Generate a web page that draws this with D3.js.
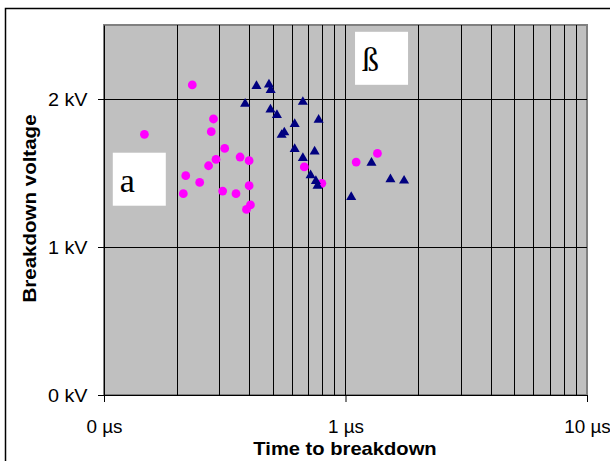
<!DOCTYPE html>
<html>
<head>
<meta charset="utf-8">
<script src="https://cdn.jsdelivr.net/npm/d3@7"></script>
<style>
  body { margin: 0; background: #fff; }
  svg { display: block; font-family: "Liberation Sans", Arial, sans-serif; }
</style>
</head>
<body>
<script>
// time to breakdown (µs) and breakdown voltage (kV)
const alphaTime = [0.232, 0.147, 0.284, 0.278, 0.316, 0.366, 0.399, 0.291, 0.271, 0.218,
                   0.249, 0.213, 0.310, 0.352, 0.399, 0.404, 0.389, 0.675, 0.798, 1.107, 1.356];
const alphaVolt = [2.095, 1.761, 1.865, 1.779, 1.666, 1.608, 1.583, 1.592, 1.549, 1.482,
                   1.436, 1.360, 1.378, 1.360, 1.414, 1.284, 1.254, 1.541, 1.430, 1.574, 1.632];

const betaTime = [0.428, 0.482, 0.490, 0.384, 0.666, 0.489, 0.520, 0.774, 0.616, 0.558,
                  0.544, 0.616, 0.745, 0.666, 0.717, 0.754, 0.766, 1.056, 1.281, 1.535, 1.748];
const betaVolt = [2.088, 2.097, 2.061, 1.968, 1.980, 1.928, 1.892, 1.860, 1.831, 1.774,
                  1.757, 1.662, 1.644, 1.601, 1.484, 1.446, 1.414, 1.338, 1.568, 1.457, 1.448];

const xTicks = [0.1, 1, 10];
const xTickLabels = ['0 µs', '1 µs', '10 µs'];
const xGrid = [0.2, 0.3, 0.4, 0.5, 0.6, 0.7, 0.8, 0.9, 1, 2, 3, 4, 5, 6, 7, 8, 9];
const yTicks = [0, 1, 2];
const yTickLabels = ['0 kV', '1 kV', '2 kV'];
const yGrid = [1, 2];

const width = 610, height = 461;
const plot = {left: 104, right: 587, top: 25, bottom: 395};

const xScale = d3.scaleLog()
                 .domain([0.1, 10])
                 .range([plot.left, plot.right]);
const yScale = d3.scaleLinear()
                 .domain([0, 2.5])
                 .range([plot.bottom, plot.top]);

const svg = d3.select('body')
              .append('svg')
              .attr('width', width)
              .attr('height', height);

// chart area border
svg.append('rect')
   .attr('x', 5.5).attr('y', 8.5)
   .attr('width', 620).attr('height', 470)
   .attr('fill', 'white')
   .attr('stroke', 'black')
   .attr('stroke-width', 1.5);

// plot area
svg.append('rect')
   .attr('x', plot.left).attr('y', plot.top)
   .attr('width', plot.right - plot.left)
   .attr('height', plot.bottom - plot.top)
   .attr('fill', '#c0c0c0')
   .attr('stroke', '#808080')
   .attr('stroke-width', 2);

svg.append('g')
   .selectAll('line')
   .data(xGrid)
   .enter()
     .append('line')
     .attr('x1', (d) => Math.round(xScale(d)) + 0.5)
     .attr('x2', (d) => Math.round(xScale(d)) + 0.5)
     .attr('y1', plot.top)
     .attr('y2', plot.bottom)
     .attr('stroke', 'black')
     .attr('stroke-width', 1);

svg.append('g')
   .selectAll('line')
   .data(yGrid)
   .enter()
     .append('line')
     .attr('x1', plot.left)
     .attr('x2', plot.right)
     .attr('y1', (d) => Math.round(yScale(d)) + 0.5)
     .attr('y2', (d) => Math.round(yScale(d)) + 0.5)
     .attr('stroke', 'black')
     .attr('stroke-width', 1);

// axes
const xAxis = d3.axisBottom(xScale)
                .tickValues(xTicks)
                .tickFormat((d, i) => xTickLabels[i])
                .tickSizeInner(7)
                .tickSizeOuter(0);
const yAxis = d3.axisLeft(yScale)
                .tickValues(yTicks)
                .tickFormat((d, i) => yTickLabels[i])
                .tickSizeInner(6)
                .tickSizeOuter(0);

const gx = svg.append('g')
   .attr('transform', `translate(0, ${plot.bottom})`)
   .call(xAxis);
gx.selectAll('text')
  .attr('x', 0).attr('y', 0).attr('dy', 0)
  .attr('transform', 'translate(0, 38) scale(1.05, 1)')
  .style('font-size', '18px')
  .attr('fill', 'black');
gx.select('.domain').attr('stroke', 'black');

const gy = svg.append('g')
   .attr('transform', `translate(${plot.left}, 0)`)
   .call(yAxis);
gy.selectAll('text')
  .attr('x', 0).attr('y', 0).attr('dy', '0.35em')
  .attr('transform', 'translate(-16.5, 0) scale(1.1, 1)')
  .style('font-size', '18px')
  .attr('fill', 'black');
gy.select('.domain').attr('stroke', 'black');

// axis titles
svg.append('text')
   .attr('transform', 'translate(345, 455) scale(1.12, 1)')
   .attr('text-anchor', 'middle')
   .style('font-size', '18px')
   .style('font-weight', 'bold')
   .text('Time to breakdown');

svg.append('text')
   .attr('transform', 'translate(36, 208.5) rotate(-90) scale(1.14, 1)')
   .attr('text-anchor', 'middle')
   .style('font-size', '18px')
   .style('font-weight', 'bold')
   .text('Breakdown voltage');

// alpha: magenta circles
svg.append('g')
   .selectAll('circle')
   .data(alphaTime)
   .enter()
     .append('circle')
     .attr('cx', (d) => xScale(d))
     .attr('cy', (d, i) => yScale(alphaVolt[i]))
     .attr('r', 4.4)
     .attr('fill', '#ff00ff');

// beta: navy triangles
const tri = d3.symbol().type(d3.symbolTriangle).size(44);
svg.append('g')
   .selectAll('path')
   .data(betaTime)
   .enter()
     .append('path')
     .attr('d', tri)
     .attr('transform', (d, i) => `translate(${xScale(d)}, ${yScale(betaVolt[i])})`)
     .attr('fill', '#000080');

// label boxes
const labels = [
  {t: 0.140, v: 1.458, text: 'a'},
  {t: 1.41, v: 2.275, text: 'ß'}
];
labels.forEach((l) => {
  const cx = xScale(l.t), cy = yScale(l.v);
  svg.append('rect')
     .attr('x', cx - 26.5).attr('y', cy - 26.5)
     .attr('width', 53).attr('height', 53)
     .attr('fill', 'white');
  svg.append('text')
     .attr('x', cx - 19.5).attr('y', cy + 12.5)
     .style('font-family', '"Liberation Serif", "Times New Roman", serif')
     .style('font-size', '34px')
     .text(l.text);
});
</script>
</body>
</html>
